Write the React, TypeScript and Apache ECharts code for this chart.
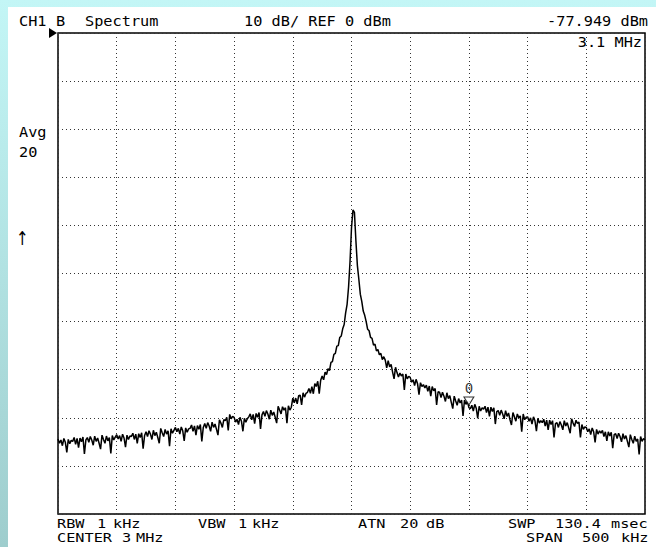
import React, { useEffect, useRef } from "react";
import * as echarts from "echarts";

// Sweep definition (kHz)
const START_KHZ = 2750;
const STOP_KHZ = 3250;
const STEP_KHZ = 1.25;
const DIV_KHZ = 50;
// Amplitude scale (dBm)
const REF_DBM = 0;
const BOTTOM_DBM = -100;
const DB_PER_DIV = 10;

const TRACE_DBM = [
  -84.4, -85.3, -84.6, -85.8, -84.3, -85.1, -87.2, -84.5, -85.4, -84.7,
  -84.9, -84.1, -85.5, -84.3, -86.2, -84.2, -85.0, -84.0, -87.5, -84.6,
  -84.1, -85.1, -83.9, -84.6, -85.7, -83.8, -84.9, -84.2, -85.3, -86.5,
  -83.6, -84.5, -85.3, -83.8, -84.8, -84.1, -87.4, -83.7, -84.6, -84.0,
  -83.5, -84.4, -83.7, -84.9, -83.4, -84.2, -86.1, -83.6, -84.5, -83.8,
  -83.9, -83.2, -84.5, -83.4, -85.3, -83.3, -84.1, -83.1, -86.4, -83.7,
  -82.9, -83.9, -82.7, -83.4, -84.5, -82.6, -83.7, -83.0, -84.1, -85.3,
  -82.2, -83.1, -83.9, -82.4, -83.4, -82.7, -85.9, -82.3, -83.2, -82.6,
  -82.0, -82.9, -82.2, -83.4, -81.9, -82.7, -84.8, -82.1, -83.0, -82.3,
  -82.2, -81.5, -82.8, -81.7, -83.6, -81.6, -82.4, -81.4, -84.9, -82.0,
  -81.2, -82.2, -81.0, -81.7, -82.8, -80.9, -82.0, -81.3, -82.4, -83.6,
  -80.4, -81.1, -82.0, -80.4, -80.6, -79.9, -82.6, -79.3, -80.2, -79.7,
  -79.9, -80.9, -80.3, -81.4, -79.9, -80.7, -82.8, -80.1, -80.9, -80.2,
  -79.8, -79.2, -80.4, -79.3, -81.2, -79.1, -79.9, -78.9, -82.3, -79.4,
  -78.7, -79.7, -78.5, -79.2, -80.3, -78.4, -79.5, -78.8, -79.9, -81.1,
  -77.6, -78.4, -79.2, -77.7, -78.4, -77.9, -81.1, -77.5, -78.4, -77.8,
  -75.9, -76.9, -75.9, -77.1, -75.4, -75.3, -77.3, -74.8, -75.7, -74.9,
  -74.7, -73.9, -74.9, -73.5, -75.0, -72.9, -73.5, -72.4, -75.0, -72.2,
  -71.3, -72.1, -70.5, -71.0, -69.8, -70.2, -68.5, -68.3, -66.8, -66.6,
  -65.1, -65.0, -63.3, -63.0, -61.5, -60.6, -58.2, -56.4, -52.8, -47.5,
  -40.5, -36.8, -37.3, -43.2, -48.3, -51.2, -54.3, -55.8, -57.8, -58.7,
  -60.0, -61.6, -61.9, -63.3, -63.5, -64.9, -64.7, -66.1, -65.8, -66.9,
  -66.6, -67.9, -67.3, -68.0, -69.6, -68.1, -69.4, -68.9, -70.5, -71.9,
  -69.5, -70.6, -71.5, -70.7, -71.3, -70.9, -74.2, -70.9, -71.9, -71.4,
  -71.6, -72.6, -72.1, -73.3, -72.0, -72.9, -75.2, -72.7, -73.5, -73.1,
  -73.8, -73.2, -74.5, -73.4, -75.5, -73.5, -74.4, -73.9, -77.3, -74.6,
  -74.7, -75.8, -74.7, -75.5, -76.6, -74.8, -76.0, -75.4, -76.8, -78.1,
  -75.5, -76.5, -77.4, -76.0, -76.9, -76.3, -79.6, -76.3, -77.2, -76.6,
  -77.9, -78.1, -77.4, -78.6, -77.2, -78.0, -80.1, -77.6, -78.6, -77.9,
  -78.2, -77.6, -78.9, -77.8, -79.7, -77.8, -78.7, -77.9, -81.3, -78.7,
  -78.5, -79.5, -78.4, -79.2, -80.2, -78.5, -79.7, -79.0, -80.4, -81.5,
  -78.9, -79.8, -80.7, -79.2, -80.0, -79.6, -82.9, -79.2, -80.4, -79.9,
  -79.8, -80.7, -80.0, -81.3, -79.8, -80.6, -82.8, -80.1, -81.1, -80.6,
  -81.0, -80.3, -81.7, -80.5, -82.5, -80.5, -81.4, -80.6, -84.1, -81.2,
  -81.0, -82.0, -80.8, -81.5, -82.5, -80.6, -81.7, -81.0, -82.1, -83.2,
  -80.2, -81.1, -81.8, -80.5, -81.2, -80.9, -84.1, -81.4, -82.4, -81.9,
  -82.0, -82.9, -82.3, -83.5, -82.1, -82.9, -85.1, -82.4, -83.4, -82.7,
  -83.2, -82.6, -83.9, -82.9, -84.8, -82.9, -83.8, -83.0, -86.3, -83.5,
  -83.3, -84.3, -83.2, -83.9, -85.0, -83.3, -84.4, -83.7, -84.9, -86.1,
  -83.5, -84.5, -85.3, -83.8, -84.9, -84.4, -87.6, -83.9, -84.9, -84.3,
  -84.6,
];

// Marker 0
const MARKER_KHZ = 3100;
const MARKER_DBM = -77.949;
const MARKER_NAME = "0";

// Screen annotations
const HEADER_TEXTS = ["CH1", "B", "Spectrum", "10 dB/ REF 0 dBm", "-77.949 dBm"];
const MARKER_FREQ_TEXT = "3.1 MHz";
const SIDE_TEXTS = ["Avg", "20", "↑"];
const FOOTER_LINE1 = ["RBW", "1", "kHz", "VBW", "1", "kHz", "ATN", "20", "dB", "SWP", "130.4", "msec"];
const FOOTER_LINE2 = ["CENTER", "3", "MHz", "SPAN", "500", "kHz"];

const FONT = "'DejaVu Sans Mono', monospace";

export default function App() {
  const ref = useRef<HTMLDivElement>(null);

  useEffect(() => {
    if (!ref.current) return;
    const chart = echarts.init(ref.current, null, { renderer: "svg" });
    const data = TRACE_DBM.map((v, i) => [START_KHZ + i * STEP_KHZ, v]);

    const txt = (
      text: string,
      x: number,
      y: number,
      align: string = "left",
      size = 14,
      sx = 1.09,
      family = FONT
    ) => ({
      type: "text",
      x,
      y,
      scaleX: sx,
      style: {
        text,
        fill: "#000",
        font: `${size}px ${family}`,
        textAlign: align,
        textVerticalAlign: "middle",
      },
    });

    const line1X = [57, 97, 113, 198, 238, 252, 358, 400, 426, 508, 555, 611];
    const line2X = [57, 122, 136, 526, 582, 621];

    const graphics: any[] = [
      txt(HEADER_TEXTS[0], 19, 21),
      txt(HEADER_TEXTS[1], 56, 21),
      txt(HEADER_TEXTS[2], 85, 21),
      txt(HEADER_TEXTS[3], 244, 21),
      txt(HEADER_TEXTS[4], 648, 21, "right"),
      txt(MARKER_FREQ_TEXT, 642, 42, "right"),
      txt(SIDE_TEXTS[0], 19, 132),
      txt(SIDE_TEXTS[1], 19, 152),
      txt(SIDE_TEXTS[2], 16, 238, "left", 19, 0.8, "'DejaVu Sans', sans-serif"),
      ...FOOTER_LINE1.map((t, i) => txt(t, line1X[i], 524, "left", 12, 1.27)),
      ...FOOTER_LINE2.map((t, i) => txt(t, line2X[i], 538, "left", 12, 1.27)),
      {
        type: "polygon",
        shape: { points: [[49, 28], [49, 38], [57, 33]] },
        style: { fill: "#000" },
      },
    ];

    chart.setOption({
      animation: false,
      backgroundColor: "transparent",
      grid: {
        left: 58,
        right: 11,
        top: 33,
        bottom: 33,
        show: true,
        borderColor: "#000",
        borderWidth: 1.5,
        backgroundColor: "transparent",
      },
      xAxis: {
        type: "value",
        min: START_KHZ,
        max: STOP_KHZ,
        interval: DIV_KHZ,
        axisLine: { show: false },
        axisTick: { show: false },
        axisLabel: { show: false },
        splitLine: { show: true, lineStyle: { color: "#333", width: 1, type: [1, 3] } },
      },
      yAxis: {
        type: "value",
        min: BOTTOM_DBM,
        max: REF_DBM,
        interval: DB_PER_DIV,
        axisLine: { show: false },
        axisTick: { show: false },
        axisLabel: { show: false },
        splitLine: { show: true, lineStyle: { color: "#333", width: 1, type: [1, 3] } },
      },
      series: [
        {
          type: "line",
          data,
          symbol: "none",
          lineStyle: { color: "#000", width: 1.5 },
          z: 3,
        },
        {
          type: "scatter",
          data: [[MARKER_KHZ, MARKER_DBM]],
          symbol: "triangle",
          symbolRotate: 180,
          symbolSize: [10, 8],
          symbolOffset: [0, -7],
          itemStyle: { color: "#fff", borderColor: "#000", borderWidth: 1 },
          label: {
            show: true,
            formatter: MARKER_NAME,
            position: "top",
            distance: 1,
            color: "#000",
            textBorderWidth: 0,
            textBorderColor: "transparent",
            fontFamily: FONT,
            fontSize: 14,
          },
          z: 4,
        },
      ],
      graphic: graphics,
    });

    return () => chart.dispose();
  }, []);

  return (
    <div
      style={{
        position: "fixed",
        left: 0,
        top: 0,
        width: 656,
        height: 547,
        background: "linear-gradient(#c3f6f6, #9ecdcd)",
      }}
    >
      <div
        style={{ position: "absolute", left: 8, top: 7, right: 0, bottom: 0, background: "#fff" }}
      />
      <div ref={ref} style={{ position: "absolute", left: 0, top: 0, width: 656, height: 547 }} />
    </div>
  );
}
